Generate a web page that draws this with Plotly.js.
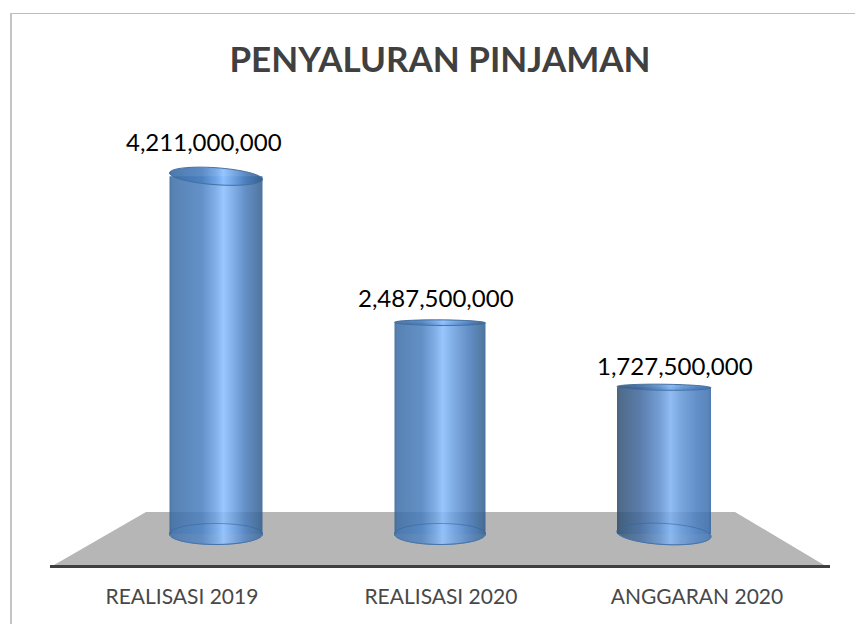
<!DOCTYPE html>
<html>
<head>
<meta charset="utf-8">
<script src="https://cdn.plot.ly/plotly-3.0.1.min.js"></script>
<style>html,body{margin:0;padding:0;background:#fff;overflow:hidden}#chart{width:855px;height:624px}</style>
</head>
<body>
<div id="chart"></div>
<script>
const categories = ["REALISASI 2019", "REALISASI 2020", "ANGGARAN 2020"];
const values = [4211000000, 2487500000, 1727500000];
const titleText = "PENYALURAN PINJAMAN";

const positions = categories.map((_, i) => i);
const box = {l: 50, r: 830, t: 100, b: 565};
const pxPerCat = 224, cx0 = 216;
const pxPerVal = 84.96 / 1e9, zeroPx = 534;
const xRange = [(box.l - cx0) / pxPerCat, (box.r - cx0) / pxPerCat];
const yRange = [(zeroPx - box.b) / pxPerVal, (zeroPx - box.t) / pxPerVal];
const barW = [93 / pxPerCat, 91 / pxPerCat, 94 / pxPerCat];
const topRim = [{b: 8.5, s: 3.2}, {b: 2.8, s: 0.3}, {b: 3, s: 0.6}];
const botRim = [{b: 10.5, s: 0}, {b: 10.5, s: 0}, {b: 10.5, s: 2.5}];
const tickPos = [-0.152, 1.004, 2.147];
const labelShift = [{x: -12, y: 35}, {x: -4, y: 25}, {x: 11, y: 22}];

const dY = p => p / pxPerVal;
function ellipse(i, v, r) {
  const a = barW[i] / 2, c = i, k = 0.5523;
  const b = dY(r.b), s = dY(r.s);
  const P = (cs, sn) => `${c + a * cs},${v - s * cs - b * sn}`;
  const front = `C${P(-1, k)} ${P(-k, 1)} ${P(0, 1)} C${P(k, 1)} ${P(1, k)} ${P(1, 0)}`;
  const back = `C${P(1, -k)} ${P(k, -1)} ${P(0, -1)} C${P(-k, -1)} ${P(-1, -k)} ${P(-1, 0)}`;
  return `M${P(-1, 0)} ${front} ${back} Z`;
}
const px = (x) => (x - box.l) / (box.r - box.l);
const py = (y) => (box.b - y) / (box.b - box.t);
const floorPath = `M${px(146)},${py(512)} L${px(735)},${py(512)} L${px(824)},${py(565)} L${px(54)},${py(565)} Z`;

const shapes = [
  {type: 'line', xref: 'paper', yref: 'paper', x0: px(10), x1: px(855), y0: py(13.5), y1: py(13.5), layer: 'below',
   line: {color: '#bdbdbd', width: 1.2}},
  {type: 'line', xref: 'paper', yref: 'paper', x0: px(11), x1: px(11), y0: py(13), y1: py(624), layer: 'below',
   line: {color: '#c4c4c4', width: 2}},
  {type: 'path', xref: 'paper', yref: 'paper', path: floorPath, layer: 'below', fillcolor: '#b6b6b6', line: {width: 0}}
];
const gradShapes = [];
values.forEach((v, i) => {
  gradShapes.push({idx: shapes.length, g: i});
  shapes.push({type: 'path', xref: 'x', yref: 'y', layer: 'below', path: ellipse(i, 0, botRim[i]),
    fillcolor: '#5f90c8', line: {color: '#4a7cb4', width: 1}});
});
values.forEach((v, i) => {
  shapes.push({type: 'path', xref: 'x', yref: 'y', layer: 'above', path: ellipse(i, 0, botRim[i]),
    fillcolor: 'rgba(255,255,255,0.08)', line: {color: 'rgba(58,105,160,0.55)', width: 1}});
  gradShapes.push({idx: shapes.length, g: i, above: true});
  shapes.push({type: 'path', xref: 'x', yref: 'y', layer: 'above', path: ellipse(i, v, topRim[i]),
    fillcolor: '#5f90c8', line: {color: '#44709f', width: 1}});
});

const annotations = values.map((v, i) => ({
  x: positions[i], y: v, xref: 'x', yref: 'y', text: v.toLocaleString('en-US'),
  showarrow: false, xshift: labelShift[i].x, yshift: labelShift[i].y,
  font: {family: 'Lato, sans-serif', size: 24, color: '#000'}
}));

const trace = {
  type: 'bar', x: positions, y: values, width: barW,
  marker: {color: '#5f90c8', line: {width: 0}}, hoverinfo: 'skip', cliponaxis: false
};
const layout = {
  width: 855, height: 624, showlegend: false, paper_bgcolor: '#fff', plot_bgcolor: 'rgba(0,0,0,0)',
  margin: {l: box.l, r: 855 - box.r, t: box.t, b: 624 - box.b, autoexpand: false},
  title: {text: '<b>' + titleText + '</b>', x: 440 / 855, xanchor: 'center', y: 1 - 60 / 624, yanchor: 'middle',
          font: {family: 'Lato, sans-serif', size: 35, color: '#404040'}},
  xaxis: {type: 'linear', range: xRange, tickmode: 'array', tickvals: tickPos, ticktext: categories,
          showgrid: false, zeroline: false, showline: true, linecolor: '#404040', linewidth: 3, ticks: '',
          ticklabelstandoff: 11, tickfont: {family: 'Lato, sans-serif', size: 21, color: '#484848'}},
  yaxis: {range: yRange, visible: false, showgrid: false, zeroline: false},
  shapes, annotations
};
const stopSets = [
  [[0,'#2f5f92'],[.03,'#3b6da6'],[.35,'#4a7fc0'],[.5,'#6ea3e6'],[.58,'#8abefe'],[.68,'#6ea3e4'],[.82,'#497cbc'],[.97,'#376494'],[1,'#2f5c8e']],
  [[0,'#2f5f92'],[.03,'#3b6da6'],[.3,'#497ebd'],[.45,'#6ea2e2'],[.53,'#88bcfd'],[.64,'#6da1e2'],[.82,'#497cbc'],[.97,'#376494'],[1,'#2f5c8e']],
  [[0,'#2a4a6a'],[.04,'#335477'],[.25,'#40689e'],[.45,'#5c8ecc'],[.57,'#7eb1f2'],[.68,'#6498d8'],[.85,'#497dc0'],[.97,'#4072b0'],[1,'#32639c']]
];
Plotly.newPlot('chart', [trace], layout, {displayModeBar: false, staticPlot: true}).then(gd => {
  const defs = gd.querySelector('svg.main-svg defs');
  const NS = 'http://www.w3.org/2000/svg';
  stopSets.forEach((stops, i) => {
    const g = document.createElementNS(NS, 'linearGradient');
    g.setAttribute('id', 'cyl' + i);
    g.setAttribute('x1', '0'); g.setAttribute('x2', '1'); g.setAttribute('y1', '0'); g.setAttribute('y2', '0');
    stops.forEach(s => {
      const st = document.createElementNS(NS, 'stop');
      st.setAttribute('offset', s[0]); st.setAttribute('stop-color', s[1]);
      g.appendChild(st);
    });
    defs.appendChild(g);
  });
  gd.querySelectorAll('.bars .point path').forEach((p, i) => {
    p.style.fill = `url(#cyl${i})`;
    p.style.fillOpacity = 0.86;
  });
  gradShapes.forEach(s => {
    const p = gd.querySelector(`.shapelayer path[data-index="${s.idx}"]`);
    if (p) { p.style.fill = `url(#cyl${s.g})`; p.style.fillOpacity = s.above ? 0.9 : 0.9; }
  });
});
</script>
</body>
</html>
